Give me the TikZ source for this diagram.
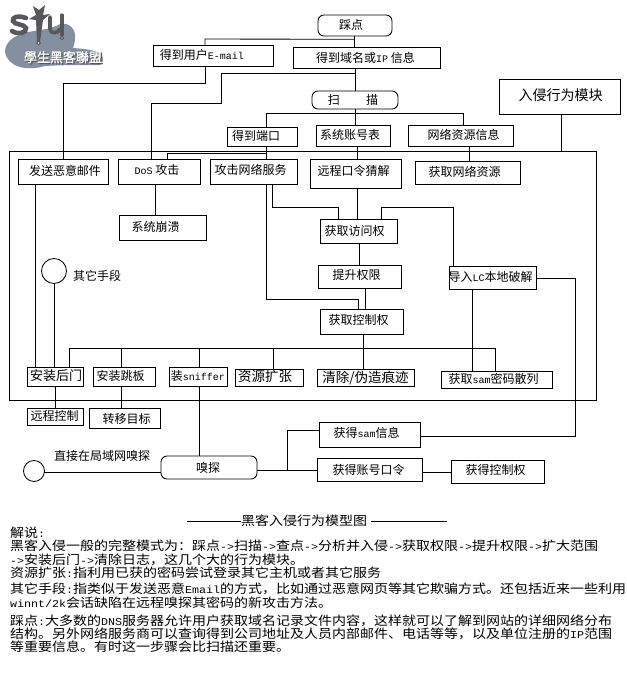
\documentclass[tikz,border=0pt]{standalone}
\usepackage{fontspec}
\setmainfont{Noto Sans CJK SC}
\newfontfamily\monof[Scale=0.8333]{Liberation Mono}
\newfontfamily\bodyf[FakeStretch=1.12]{Noto Sans CJK SC}
\newfontfamily\bodym[Scale=0.8333,FakeStretch=1.12]{Liberation Mono}
\newfontfamily\logof[FakeBold=1.5]{Noto Sans CJK TC}
\newcommand{\lat}[1]{{\monof #1}}
\newcommand{\bl}[1]{{\bodym #1}}
\usetikzlibrary{calc}
\definecolor{logoblue}{HTML}{8490A0}
\definecolor{logodark}{HTML}{58585A}
\tikzset{
  boxbase/.style={draw=black,line width=0.85pt,inner sep=0pt,outer sep=0pt,font=\fontsize{12}{12}\selectfont},
  conn/.style={draw=black,line width=0.85pt,line cap=rect},
  bodyline/.style={anchor=base west,inner sep=0pt,font=\fontsize{12.5}{13}\bodyf},
  freetext/.style={anchor=base west,inner sep=0pt,font=\fontsize{12}{12}\selectfont}
}
% name, x1,y1,x2,y2, text shift x, baseline below centre, text, extra style
\newcommand{\bx}[9][]{%
  \pgfmathsetlengthmacro{\bw}{#4-#2}\pgfmathsetlengthmacro{\bh}{#5-#3}%
  \pgfmathsetmacro{\cx}{(#2+#4)/2}\pgfmathsetmacro{\cy}{(#3+#5)/2}%
  \pgfmathsetlengthmacro{\ds}{2*#6}%
  \node[boxbase,minimum width=\bw,minimum height=\bh,#1] (#9) at (\cx,\cy)
    {\hspace*{\ds}\smash{\raisebox{-#7pt}{#8}}};}
\begin{document}
\begin{tikzpicture}[x=1pt,y=-1pt]
\useasboundingbox (0,0) rectangle (627,681);
\fill[white] (0,0) rectangle (627,681);
% ---------- logo
\fill[logoblue] (5,52) .. controls (5,42) and (14,36) .. (24,33)
  .. controls (36,30) and (50,30) .. (60,24)
  .. controls (70,22) and (76,30) .. (75,38)
  .. controls (75,42) and (74,46) .. (73,48)
  .. controls (85,49) and (98,50) .. (102,55)
  .. controls (104,60) and (103,63) .. (100,65)
  .. controls (80,65) and (60,65) .. (45,66)
  .. controls (28,71) and (8,68) .. (5,52) -- cycle;
\draw[logodark,line width=4.6pt,line cap=round] (26,18) .. controls (18,15) and (12,17) .. (13,21)
  .. controls (14,25) and (25,24) .. (26,28) .. controls (27,33) and (18,35) .. (12,31);
\fill[logodark] (33,6) -- (39,10) -- (45,5) -- (43,15) -- (50,14) -- (43,20) -- (40,42) -- (37,42) -- (36,20) -- (29,19) -- (36,15) -- cycle;
\draw[logodark,line width=1pt,fill=white] (38.5,43) circle (1.8);
\draw[logodark,line width=3.6pt,line cap=round] (50,17) -- (50,29) .. controls (50,34) and (58,34) .. (60,29);
\draw[logodark,line width=3.2pt,line cap=round] (62,15) -- (62,35);
\draw[logodark,line width=1pt,fill=white] (62,38) circle (1.6);
\node[inner sep=0pt,text=logodark,font=\fontsize{13}{13}\logof] at (64.2,58.4) {學生黑客聯盟};
\node[inner sep=0pt,text=white,font=\fontsize{13}{13}\logof] (logotext) at (63,57.2) {學生黑客聯盟};
% ---------- frame
\node[draw=black,line width=0.85pt,inner sep=0pt,outer sep=0pt,minimum width=587pt,minimum height=249pt] (frame) at (302.5,275.5) {};
% ---------- boxes
\bx[rounded corners=6pt]{318}{15}{392}{36}{-4}{3.5}{踩点}{tadian}
\bx{153}{45}{273}{66}{-11}{4}{得到用户\lat{E-mail}}{email}
\bx{293}{47}{440}{68}{-1}{5}{得到域名或\lat{IP} 信息}{domain}
\bx[rounded corners=6pt]{312}{91}{398}{109}{-2}{4}{扫\hspace{2.2em}描}{scan}
\bx{499}{79}{620}{114}{1}{4}{\fontsize{14}{14}\selectfont 入侵行为模块}{module}
\bx{227}{127}{297}{146}{-6}{4}{得到端口}{port}
\bx{316}{125}{390}{146}{-3}{4}{系统账号表}{accounts}
\bx{408}{125}{513}{146}{3}{4}{网络资源信息}{netinfo}
\bx{18}{159}{108}{184}{2}{4}{发送恶意邮件}{mail}
\bx{118}{159}{200}{184}{-2}{3}{\lat{DoS} 攻击}{dos}
\bx{210}{159}{297}{184}{-3}{3}{攻击网络服务}{attack}
\bx{310}{159}{401}{188}{-2}{2}{远程口令猜解}{guess}
\bx{415}{161}{520}{184}{-3}{4}{获取网络资源}{getnet}
\bx{119}{215}{206}{240}{-7}{4}{系统崩溃}{crash}
\bx{320}{219}{397}{243}{-4}{4}{获取访问权}{access}
\bx{318}{265}{401}{288}{-3}{3}{提升权限}{elev}
\bx{449}{266}{536}{289}{-2}{4}{导入\lat{LC}本地破解}{lc}
\bx{320}{309}{403}{334}{-3}{3}{获取控制权}{control}
\bx{27}{367}{83}{386}{1}{4}{\fontsize{13}{13}\selectfont 安装后门}{backdoor}
\bx{93}{367}{155}{386}{-3.5}{4}{安装跳板}{spring}
\bx{169}{367}{227}{386}{0}{4}{装\lat{sniffer}}{sniffer}
\bx{235}{369}{303}{386}{-4}{4}{\fontsize{13.5}{13.5}\selectfont 资源扩张}{expand}
\bx{317}{369}{414}{386}{0}{5}{\fontsize{13.5}{13.5}\selectfont 清除/伪造痕迹}{clean}
\bx{441}{371}{552}{388}{-3}{4}{获取\lat{sam}密码散列}{hash}
\bx{27}{408}{83}{425}{-0.5}{4}{远程控制}{remote}
\bx{89}{408}{160}{428}{2}{5}{转移目标}{move}
\bx{319}{422}{420}{447}{-3}{3}{获得\lat{sam}信息}{samget}
\bx[rounded corners=6pt]{161}{456}{257}{479}{-1}{5}{嗅探}{sniff}
\bx{317}{458}{422}{481}{-1}{5}{获得账号口令}{account}
\bx{451}{460}{544}{483}{-2}{3}{获得控制权}{ctrlget}
% ---------- circles
\node[draw=black,line width=0.85pt,circle,inner sep=0pt,outer sep=0pt,minimum size=25pt] (other) at (54,271) {};
\node[draw=black,line width=0.85pt,circle,inner sep=0pt,outer sep=0pt,minimum size=21pt] (direct) at (34,471) {};
\node[freetext] (othertext) at (73,280) {其它手段};
\node[freetext] (directtext) at (54,460) {直接在局域网嗅探};
% ---------- bends
\coordinate (busA) at (205,39);
\coordinate (busB) at (221,73);
\coordinate (busC) at (266,113);
\coordinate (busD) at (167,153.5);
\coordinate (busE) at (272,207);
\coordinate (busF) at (381,207);
\coordinate (busG) at (358,299);
\coordinate (busH) at (69,348);
\coordinate (busI) at (495,348);
\coordinate (busJ) at (287,430);
% ---------- connectors
\draw[conn] (tadian.south -| 354,0) -- (domain.north -| 354,0);
\draw[conn] (tadian.south -| 354,0) ++(0,3.3) -- (busA) -- (email.north -| busA);
\draw[conn] (email.south -| busA) -- (205,83) -- (63,83) -- (mail.north -| 63,0);
\draw[conn] (domain.south -| 355,0) -- (scan.north -| 355,0);
\draw[conn] (355,73) -- (busB) -- (221,103) -- (151,103) -- (dos.north -| 151,0);
\draw[conn] (scan.south -| 355,0) -- (accounts.north -| 355,0);
\draw[conn] (port.north -| busC) -- (busC) -- (463,113) -- (netinfo.north -| 463,0);
\draw[conn] (port.south -| busC) -- (attack.north -| busC);
\draw[conn] (266,153.5) -- (busD) -- (dos.north -| busD);
\draw[conn] (accounts.south -| 357,0) -- (guess.north -| 357,0);
\draw[conn] (netinfo.south -| 469,0) -- (getnet.north -| 469,0);
\draw[conn] (module.south -| 561,0) -- (frame.north -| 561,0);
\draw[conn] (dos.south -| 155,0) -- (crash.north -| 155,0);
\draw[conn] (mail.south -| 35,0) -- (backdoor.north -| 35,0);
\draw[conn] (other.south) -- (backdoor.north -| other.south);
\draw[conn] (attack.south -| 266,0) -- (266,299) -- (busG) -- (control.north -| busG);
\draw[conn] (attack.south -| busE) -- (busE) -- (338,207) -- (access.north -| 338,0);
\draw[conn] (guess.south -| 357,0) -- (access.north -| 357,0);
\draw[conn] (access.north -| busF) -- (busF) -- (453,207) -- (lc.north -| 453,0);
\draw[conn] (access.south -| 359,0) -- (elev.north -| 359,0);
\draw[conn] (elev.south -| 365,0) -- (control.north -| 365,0);
\draw[conn] (control.south -| 363,0) -- (clean.north -| 363,0);
\draw[conn] (backdoor.north -| busH) -- (busH) -- (busI) -- (hash.north -| busI);
\draw[conn] (121,348) -- (spring.north -| 121,0);
\draw[conn] (199,348) -- (sniffer.north -| 199,0);
\draw[conn] (273,348) -- (expand.north -| 273,0);
\draw[conn] (lc.south -| 472,0) -- (hash.north -| 472,0);
\draw[conn] (lc.east |- 0,278) -- (575,278) -- (575,436) -- (samget.east |- 0,436);
\draw[conn] (backdoor.south -| 55,0) -- (remote.north -| 55,0);
\draw[conn] (spring.south -| 121,0) -- (move.north -| 121,0);
\draw[conn] (sniffer.south -| 199,0) -- (sniff.north -| 199,0);
\draw[conn] (direct.east |- 0,472) -- (sniff.west |- 0,472);
\draw[conn] (sniff.east |- 0,470) -- (account.west |- 0,470);
\draw[conn] (287,470) -- (busJ) -- (samget.west |- busJ);
\draw[conn] (account.east |- 0,472) -- (ctrlget.west |- 0,472);
% ---------- caption and notes
\node[bodyline] (caption) at (241,525) {黑客入侵行为模型图};
\coordinate (capL) at (187,521);
\coordinate (capR) at (447,521);
\draw[conn] (capL) -- (caption.west |- capL);
\draw[conn] (371,521) -- (capR);
\node[bodyline] (n1) at (10,537) {解说\bl{:}};
\node[bodyline] (n2) at (10,550) {黑客入侵一般的完整模式为：踩点\bl{->}扫描\bl{->}查点\bl{->}分析并入侵\bl{->}获取权限\bl{->}提升权限\bl{->}扩大范围};
\node[bodyline] (n3) at (10,564) {\bl{->}安装后门\bl{->}清除日志，这几个大的行为模块。};
\node[bodyline] (n4) at (10,577) {资源扩张\bl{:}指利用已获的密码尝试登录其它主机或者其它服务};
\node[bodyline] (n5) at (10,593) {其它手段\bl{:}指类似于发送恶意\bl{Email}的方式，比如通过恶意网页等其它欺骗方式。还包括近来一些利用};
\node[bodyline] (n6) at (10,607) {\bl{winnt/2k}会话缺陷在远程嗅探其密码的新攻击方法。};
\node[bodyline] (n7) at (10,625) {踩点\bl{:}大多数的\bl{DNS}服务器允许用户获取域名记录文件内容，这样就可以了解到网站的详细网络分布};
\node[bodyline] (n8) at (10,638) {结构。另外网络服务商可以查询得到公司地址及人员内部邮件、电话等等，以及单位注册的\bl{IP}范围};
\node[bodyline] (n9) at (10,651) {等重要信息。有时这一步骤会比扫描还重要。};
\end{tikzpicture}
\end{document}
